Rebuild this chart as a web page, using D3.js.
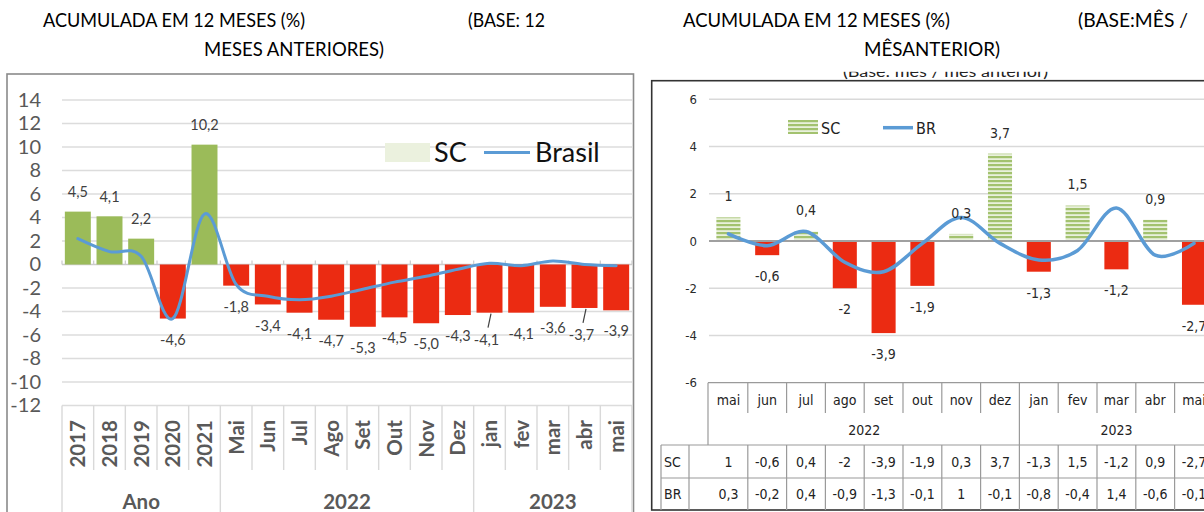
<!DOCTYPE html>
<html><head><meta charset="utf-8">
<script src="https://cdn.jsdelivr.net/npm/d3@7"></script>
<style>
body{margin:0;background:#fff;}
svg{display:block;font-family:Lato,"Open Sans",sans-serif;}
</style></head><body>
<svg id="c" width="1204" height="512"></svg>
<script>
// ---------- DATA ----------
const leftCategories = ["2017","2018","2019","2020","2021","Mai","Jun","Jul","Ago","Set","Out","Nov","Dez","jan","fev","mar","abr","mai"];
const leftGroupNames = ["Ano","2022","2023"];
const leftGroupSizes = [5,8,5];
const leftSC = [4.5,4.1,2.2,-4.6,10.2,-1.8,-3.4,-4.1,-4.7,-5.3,-4.5,-5.0,-4.3,-4.1,-4.1,-3.6,-3.7,-3.9];
const leftBrasil = [2.2,1.1,0.7,-4.6,4.3,-1.7,-2.7,-3.0,-2.7,-2.1,-1.5,-1.0,-0.4,0.1,-0.1,0.3,0.0,-0.1];
const leftYTicks = [14,12,10,8,6,4,2,0,-2,-4,-6,-8,-10,-12];
const leftLeaderIdx = [13,16];

const rightMonths = ["mai","jun","jul","ago","set","out","nov","dez","jan","fev","mar","abr","mai"];
const rightGroupNames = ["2022","2023"];
const rightGroupSizes = [8,5];
const rightSC = [1,-0.6,0.4,-2,-3.9,-1.9,0.3,3.7,-1.3,1.5,-1.2,0.9,-2.7];
const rightBR = [0.3,-0.2,0.4,-0.9,-1.3,-0.1,1,-0.1,-0.8,-0.4,1.4,-0.6,-0.1];
const rightYTicks = [6,4,2,0,-2,-4,-6];
const rightRowNames = ["SC","BR"];

const titleLeft1 = "ACUMULADA EM 12 MESES (%)", titleLeft1b = "(BASE: 12", titleLeft2 = "MESES ANTERIORES)";
const titleRight1 = "ACUMULADA EM 12 MESES (%)", titleRight1b = "(BASE:MÊS /", titleRight2 = "MÊSANTERIOR)";
const hiddenSub = "(Base: mês / mês anterior)";

// ---------- SETUP ----------
const loc = d3.formatLocale({decimal:",", thousands:".", grouping:[3], currency:["",""], minus:"-"});
const fmt1 = loc.format(".1f");
const fmtG = loc.format("");
const svg = d3.select("#c");
const blue = "#5B9BD5", green = "#9BBB59", red = "#EB2B12";

const defs = svg.append("defs");
const pat = defs.append("pattern").attr("id","hatch").attr("patternUnits","userSpaceOnUse")
  .attr("width",8).attr("height",4);
pat.append("rect").attr("width",8).attr("height",4).attr("fill","#e9f1dc");
pat.append("rect").attr("width",8).attr("height",2.2).attr("fill","#a3c26f");

function txt(g, s, x, y, opts={}) {
  const t = g.append("text").attr("x",x).attr("y",y).text(s);
  for (const k in opts) t.attr(k, opts[k]);
  return t;
}

// ---------- TITLES ----------
const tt = {"font-size":19, fill:"#000", lengthAdjust:"spacingAndGlyphs"};
txt(svg, titleLeft1, 43, 27, {...tt, textLength:262});
txt(svg, titleLeft1b, 468, 27, {...tt, textLength:77});
txt(svg, titleLeft2, 204, 56, {...tt, textLength:180});
txt(svg, titleRight1, 683, 27, {...tt, textLength:267});
txt(svg, titleRight1b, 1078, 27, {...tt, textLength:110});
txt(svg, titleRight2, 864, 56, {...tt, textLength:136});
txt(svg, hiddenSub, 843, 77, {"font-size":15, fill:"#222", textLength:205, lengthAdjust:"spacingAndGlyphs"});
svg.append("rect").attr("x",820).attr("y",61).attr("width",260).attr("height",10.8).attr("fill","#fff");

// ---------- LEFT CHART ----------
const L = svg.append("g");
L.append("rect").attr("x",7).attr("y",74).attr("width",626.5).attr("height",470)
  .attr("fill","#fff").attr("stroke","#8a8a8a").attr("stroke-width",1.6);

const xL = d3.scaleBand().domain(d3.range(leftCategories.length)).range([62,632])
  .paddingInner(0.18).paddingOuter(0.09);
const yL = d3.scaleLinear().domain([-12,14]).range([405.5,100]);
const stepL = xL.step();
const slotL = i => xL.range()[0] + i*stepL;
const cxL = i => xL(i) + xL.bandwidth()/2;

// gridlines
L.append("g").selectAll("line").data(leftYTicks).join("line")
  .attr("x1",62).attr("x2",632).attr("y1",d=>yL(d)).attr("y2",d=>yL(d))
  .attr("stroke", d=> d===0 ? "#cccccc" : "#dcdcdc").attr("stroke-width",1.4);
// small ticks on zero line
L.append("g").selectAll("line").data(d3.range(leftCategories.length+1)).join("line")
  .attr("x1",d=>slotL(d)).attr("x2",d=>slotL(d)).attr("y1",yL(0)).attr("y2",yL(0)-4)
  .attr("stroke","#cccccc").attr("stroke-width",1.2);

// y axis
const axL = L.append("g").attr("transform","translate(41,0)")
  .call(d3.axisLeft(yL).tickValues(leftYTicks).tickSize(0).tickPadding(0).tickFormat(fmtG));
axL.select(".domain").remove();
axL.selectAll("text").attr("font-size",20).attr("fill","#595959").attr("font-family","Lato,sans-serif");

// bars
L.append("g").selectAll("rect").data(leftSC).join("rect")
  .attr("x",(d,i)=>xL(i)).attr("width",xL.bandwidth())
  .attr("y",d=>yL(Math.max(0,d))).attr("height",d=>Math.abs(yL(d)-yL(0)))
  .attr("fill",d=>d>=0?green:red);

// line
const lineL = d3.line().x((d,i)=>cxL(i)).y(d=>yL(d)).curve(d3.curveCatmullRom.alpha(0));
L.append("path").datum(leftBrasil).attr("d",lineL).attr("fill","none")
  .attr("stroke",blue).attr("stroke-width",3).attr("stroke-linecap","round");

// labels
L.append("g").selectAll("text").data(leftSC).join("text")
  .attr("x",(d,i)=> leftLeaderIdx.includes(i) ? cxL(i)-3 : cxL(i))
  .attr("y",(d,i)=> d>=0 ? yL(d)-19.5 : yL(d) + (leftLeaderIdx.includes(i) ? 27 : 21))
  .attr("dy","0.35em").attr("text-anchor","middle")
  .attr("font-size",14.5).attr("fill","#404040").text(d=>fmt1(d));
L.append("g").selectAll("line").data(leftLeaderIdx).join("line")
  .attr("x1",i=>cxL(i)+1.5).attr("x2",i=>cxL(i)-1.5)
  .attr("y1",i=>yL(leftSC[i])+1).attr("y2",i=>yL(leftSC[i])+15)
  .attr("stroke","#404040").attr("stroke-width",1.2);

// category axis
const groupBounds = [0];
leftGroupSizes.forEach(s=>groupBounds.push(groupBounds[groupBounds.length-1]+s));
L.append("g").selectAll("line").data(d3.range(leftCategories.length+1)).join("line")
  .attr("x1",d=>slotL(d)).attr("x2",d=>slotL(d)).attr("y1",yL(-12))
  .attr("y2",d=>groupBounds.includes(d)?512:470)
  .attr("stroke","#d9d9d9").attr("stroke-width",1.4);
L.append("g").selectAll("text").data(leftCategories).join("text")
  .attr("transform",(d,i)=>`translate(${cxL(i)},420) rotate(-90)`)
  .attr("dy","0.36em").attr("text-anchor","end").attr("font-size",20.5).attr("font-weight","bold")
  .attr("fill","#595959").text(d=>d);
L.append("g").selectAll("text").data(leftGroupNames).join("text")
  .attr("x",(d,i)=>(slotL(groupBounds[i])+slotL(groupBounds[i+1]))/2).attr("y",509)
  .attr("text-anchor","middle").attr("font-size",20.5).attr("font-weight","bold")
  .attr("fill","#595959").text(d=>d);

// legend
L.append("rect").attr("x",385).attr("y",143).attr("width",45).attr("height",19).attr("fill","#EBF1DE");
txt(L,"SC",434,162,{"font-size":27,fill:"#111"});
L.append("line").attr("x1",484).attr("x2",530).attr("y1",152.5).attr("y2",152.5).attr("stroke",blue).attr("stroke-width",3);
txt(L,"Brasil",535,162,{"font-size":27,fill:"#111"});

// ---------- RIGHT CHART ----------
const R = svg.append("g");
const rf = "'Liberation Sans Narrow','DejaVu Sans Condensed',Lato,sans-serif";
R.append("rect").attr("x",651.7).attr("y",80.7).attr("width",620).attr("height",429.3)
  .attr("fill","#fff").attr("stroke","#333").attr("stroke-width",1.6);

const xR = d3.scaleBand().domain(d3.range(rightMonths.length)).range([709,709+13*38.8])
  .paddingInner(0.38).paddingOuter(0.19);
const yR = d3.scaleLinear().domain([-6,6]).range([382.7,99.3]);
const stepR = xR.step();
const slotR = i => xR.range()[0] + i*stepR;
const cxR = i => xR(i) + xR.bandwidth()/2;

R.append("g").selectAll("line").data(rightYTicks.filter(d=>d!==0 && d!==-6)).join("line")
  .attr("x1",709).attr("x2",1204).attr("y1",d=>yR(d)).attr("y2",d=>yR(d))
  .attr("stroke","#d9d9d9").attr("stroke-width",1.4);

const axR = R.append("g").attr("transform","translate(697,0)")
  .call(d3.axisLeft(yR).tickValues(rightYTicks).tickSize(0).tickPadding(0).tickFormat(fmtG));
axR.select(".domain").remove();
axR.selectAll("text").attr("font-size",13).attr("fill","#2a2a2a").attr("font-family",rf);

R.append("g").selectAll("rect").data(rightSC).join("rect")
  .attr("x",(d,i)=>xR(i)).attr("width",xR.bandwidth())
  .attr("y",d=>yR(Math.max(0,d))).attr("height",d=>Math.abs(yR(d)-yR(0)))
  .attr("fill",d=>d>=0?"url(#hatch)":red);

R.append("line").attr("x1",709).attr("x2",1204).attr("y1",yR(0)).attr("y2",yR(0))
  .attr("stroke","#a0a0a0").attr("stroke-width",1.8);

const lineR = d3.line().x((d,i)=>cxR(i)).y(d=>yR(d)).curve(d3.curveCatmullRom.alpha(0));
R.append("path").datum(rightBR).attr("d",lineR).attr("fill","none")
  .attr("stroke",blue).attr("stroke-width",3.5).attr("stroke-linecap","round");

R.append("g").selectAll("text").data(rightSC).join("text")
  .attr("x",(d,i)=>cxR(i)).attr("y",d=> d>=0 ? yR(d)-21 : yR(d)+21)
  .attr("dy","0.35em").attr("text-anchor","middle").attr("font-size",14)
  .attr("font-family",rf).attr("fill","#2a2a2a").text(d=>fmtG(d));

// legend
R.append("rect").attr("x",788).attr("y",120).attr("width",30).attr("height",14).attr("fill","url(#hatch)");
txt(R,"SC",821,133.5,{"font-size":16,fill:"#222","font-family":rf});
R.append("line").attr("x1",883).attr("x2",913).attr("y1",127.7).attr("y2",127.7).attr("stroke",blue).attr("stroke-width",3.5);
txt(R,"BR",916,133.5,{"font-size":16,fill:"#222","font-family":rf});

// data table
const T = R.append("g");
const tc = "#9a9a9a";
const rBounds = [0];
rightGroupSizes.forEach(s=>rBounds.push(rBounds[rBounds.length-1]+s));
const yTop = yR(-6), yMonthSep = 413, yRow1 = 445, yRow2 = 478, yBot = 510;
const hl = (x1,x2,y)=>T.append("line").attr("x1",x1).attr("x2",x2).attr("y1",y).attr("y2",y).attr("stroke",tc).attr("stroke-width",1.2);
const vl = (x,y1,y2)=>T.append("line").attr("x1",x).attr("x2",x).attr("y1",y1).attr("y2",y2).attr("stroke",tc).attr("stroke-width",1.2);
hl(slotR(0)-1, 1204, yTop);
hl(661, 1204, yRow1);
hl(661, 1204, yRow2);
d3.range(rightMonths.length+1).forEach(i=>{
  if (i===0) vl(slotR(0)-1, yTop, yRow1);
  else if (rBounds.includes(i)) vl(slotR(i), yTop, yBot);
  else { vl(slotR(i), yTop, yMonthSep); vl(slotR(i), yRow1, yBot); }
});
vl(661, yRow1, yBot); vl(689, yRow1, yBot);

const tf = {"font-size":14,fill:"#222","font-family":rf,"text-anchor":"middle"};
rightMonths.forEach((m,i)=>txt(T,m,cxR(i),400,{...tf,dy:"0.35em"}));
rightGroupNames.forEach((g,i)=>txt(T,g,(slotR(rBounds[i])+slotR(rBounds[i+1]))/2,430,{...tf,dy:"0.35em"}));
[rightSC,rightBR].forEach((arr,r)=>{
  const yy = r===0 ? 462 : 494;
  txt(T,rightRowNames[r],664,yy,{...tf,"text-anchor":"start",dy:"0.35em"});
  arr.forEach((v,i)=>txt(T,fmtG(v),cxR(i),yy,{...tf,dy:"0.35em"}));
});
</script>
</body></html>
